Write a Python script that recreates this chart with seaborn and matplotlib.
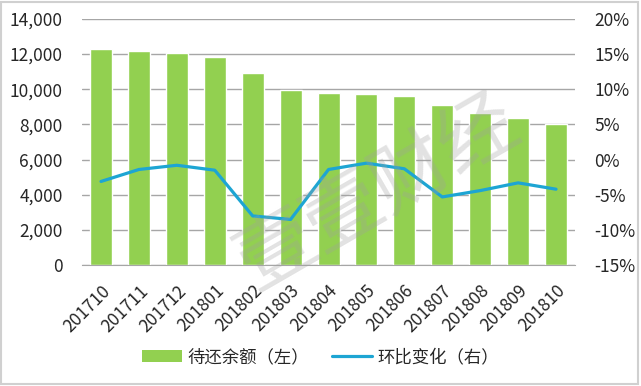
import seaborn as sns
import matplotlib.pyplot as plt
from matplotlib.patches import Patch, Rectangle
from matplotlib.lines import Line2D
from matplotlib.ticker import FuncFormatter

months = ['201710', '201711', '201712', '201801', '201802', '201803', '201804',
          '201805', '201806', '201807', '201808', '201809', '201810']
balance = [12300, 12150, 12070, 11850, 10930, 9980, 9790,
           9730, 9620, 9100, 8650, 8350, 8030]
mom_change = [-3.1, -1.4, -0.8, -1.5, -8.0, -8.5, -1.4,
              -0.5, -1.3, -5.3, -4.4, -3.3, -4.2]

sns.set_style('white')
plt.rcParams['font.family'] = ['Noto Sans CJK SC', 'DejaVu Sans']

green = '#92D050'
blue = '#1DA5D3'
grid = '#A6A6A6'
txt = '#262626'

fig = plt.figure(figsize=(6.41, 3.86), dpi=100)
ax = fig.add_axes([0.128, 0.313, 0.769, 0.638])

sns.barplot(x=months, y=balance, color=green, width=0.58, saturation=1, ax=ax)
ax.set_ylim(0, 14000)
ax.set_yticks(range(0, 14001, 2000))
ax.yaxis.set_major_formatter(FuncFormatter(lambda v, p: f'{int(v):,}'))
ax.set_xlim(-0.5, len(months) - 0.5)
ax.grid(axis='y', color=grid, linewidth=1)
ax.set_axisbelow(True)
for s in ax.spines.values():
    s.set_visible(False)
ax.spines['bottom'].set_visible(True)
ax.spines['bottom'].set_color(grid)
ax.tick_params(axis='y', length=0, labelsize=12.5, colors=txt, pad=14)
ax.tick_params(axis='x', length=0, labelsize=12.5, colors=txt, pad=12)
plt.setp(ax.get_xticklabels(), rotation=45, ha='right', rotation_mode='anchor')
ax.set_xlabel('')
ax.set_ylabel('')

ax2 = ax.twinx()
sns.lineplot(x=list(range(len(months))), y=mom_change, color=blue, linewidth=2.3,
             sort=False, ax=ax2)
ax2.set_ylim(-15, 20)
ax2.set_yticks(range(-15, 21, 5))
ax2.yaxis.set_major_formatter(FuncFormatter(lambda v, p: f'{int(v)}%'))
ax2.tick_params(axis='y', length=0, labelsize=12.5, colors=txt, pad=14)
for s in ax2.spines.values():
    s.set_visible(False)
ax2.set_ylabel('')

# watermark
fig.text(0.59, 0.5, '壹壹财经', fontsize=56, color='#A0A0A0', alpha=0.3,
         rotation=30, ha='center', va='center', zorder=10)

handles = [Patch(facecolor=green, edgecolor='none'),
           Line2D([0], [0], color=blue, linewidth=2.3)]
fig.legend(handles, ['待还余额（左）', '环比变化（右）'], loc='center',
           bbox_to_anchor=(0.5, 0.075), ncol=2, frameon=False, fontsize=12.5,
           handlelength=2.3, handletextpad=0.3, columnspacing=1.3)

fig.patches.append(Rectangle((0.002, 0.004), 0.994, 0.992, transform=fig.transFigure,
                             fill=False, edgecolor='#D0D0D0', linewidth=1.5))

fig.savefig('out.png', dpi=100)
